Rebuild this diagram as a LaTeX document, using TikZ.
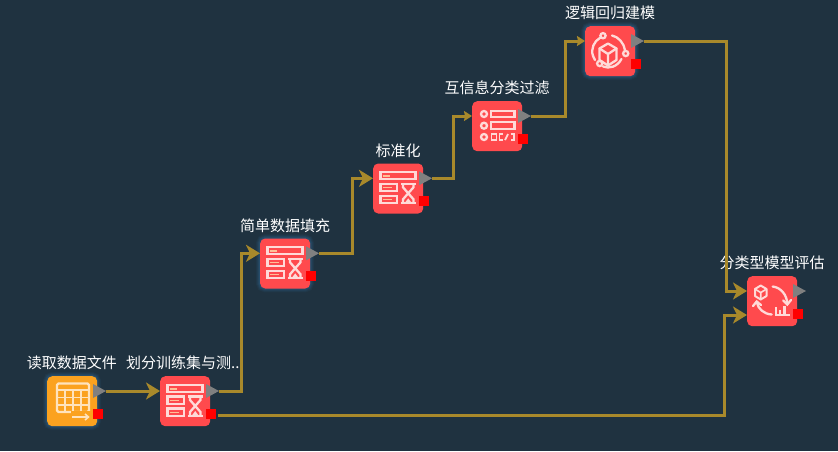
\documentclass[tikz,border=0pt]{standalone}
\usepackage{fontspec}
\setmainfont{Noto Sans CJK SC}
\usetikzlibrary{arrows.meta}
\definecolor{bgc}{HTML}{1F3240}
\definecolor{wire}{HTML}{A8892B}
\definecolor{redbox}{HTML}{FF4A4D}
\definecolor{orangebox}{HTML}{FBA21F}
\definecolor{iconred}{HTML}{FFDAD8}
\definecolor{iconorange}{HTML}{FFE3BC}
\definecolor{glowc}{HTML}{3D8FD0}
\definecolor{portc}{HTML}{808080}
\tikzset{
  nodebox/.style={draw=none,rectangle,rounded corners=5pt,minimum size=50pt,inner sep=0pt,anchor=north west},
  nodelabel/.style={text=white,font=\fontsize{15pt}{16pt}\selectfont,inner sep=0pt,anchor=center},
  wirebig/.style={draw=wire,line width=3pt,-{Stealth[length=14pt,width=17pt,inset=4pt]}},
  wiresmall/.style={draw=wire,line width=3pt,-{Stealth[length=8pt,width=10pt,inset=1pt]}},
  icon/.style={line width=2.3pt,line join=miter,fill=none},
}
\newcommand{\glowbox}{%
  \foreach \gw/\gop in {8/0.06,6/0.08,4/0.10,2/0.12}{%
    \draw[glowc,opacity=\gop,line width=\gw pt,rounded corners=5pt] (0,0) rectangle (50,50);}}
\newcommand{\flownode}[7]{%
  \begin{scope}[shift={(#2,#3)}]
    #7
    \node[nodebox,fill=#4] (#1) at (0,0) {};
    #6
    \fill[portc] (46,8) -- (59,15) -- (46,22) -- cycle;
    \fill[red] (46,33) rectangle (56,43);
    \node[nodelabel] (#1-label) at (25,-13) {#5};
    \coordinate (#1-in) at (0,15);
    \coordinate (#1-intwo) at (0,39);
    \coordinate (#1-out) at (59,15);
    \coordinate (#1-err) at (58,39);
  \end{scope}}
\newcommand{\icontable}{%
  \begin{scope}[icon,draw=iconorange]
    \draw[rounded corners=1.5pt] (10,7.5) rectangle (42,36);
    \draw (10,14) -- (42,14);
    \draw[line width=1.6pt] (18,14) -- (18,36) (26,14) -- (26,36) (34,14) -- (34,36)
      (10,21.5) -- (42,21.5) (10,29) -- (42,29);
    \fill[orangebox] (24,34.5) rectangle (45,45);
    \draw[line width=1.6pt] (25,41) -- (41,41) (38,38) -- (41.5,41) -- (38,44);
  \end{scope}}
\newcommand{\iconform}{%
  \begin{scope}[icon,draw=iconred]
    \draw (7.5,9) rectangle (42.5,16);
    \fill[iconred!70!orange] (10,11.5) rectangle (17,13.5);
    \draw (7.5,20.5) rectangle (24,28);
    \fill[iconred!70!orange] (10,23.5) rectangle (19,25);
    \draw (7.5,32.5) rectangle (24,40);
    \fill[iconred!70!orange] (10,35.5) rectangle (19,37);
    \draw (28,20.5) -- (42.5,20.5) (28,40) -- (42.5,40);
    \draw (30,20.5) -- (30,24) -- (35.2,30) -- (30,36) -- (30,40)
          (40.5,20.5) -- (40.5,24) -- (35.2,30) -- (40.5,36) -- (40.5,40);
    \fill[iconred] (31.5,40) -- (35.2,35) -- (39,40) -- cycle;
  \end{scope}}
\newcommand{\iconlist}{%
  \begin{scope}[icon,draw=iconred]
    \draw (12,13) circle (3pt) (12,24.7) circle (3pt) (12,36) circle (3pt);
    \draw (19,9.7) rectangle (42.5,15.7);
    \draw (19,21.3) rectangle (42.5,27.7);
    \begin{scope}[line width=1.8pt]
    \draw (19.5,33) rectangle (24.5,39);
    \draw (31,33) -- (27.5,33) -- (27.5,39) -- (31,39);
    \draw (36,33) -- (33,39);
    \draw (38.5,33) -- (42,33) -- (42,39) -- (38.5,39);
    \end{scope}
  \end{scope}}
\newcommand{\iconcube}{%
  \begin{scope}[icon,draw=iconred,line cap=round]
    \draw[line join=round] (23,17.5) -- (31.5,22.5) -- (31.5,34) -- (23,39.5) -- (14.5,34) -- (14.5,22.5) -- cycle;
    \draw[line join=round] (14.5,22.5) -- (23,28) -- (31.5,22.5) (23,28) -- (23,39.5);
    \draw (15.5,11.5) .. controls (9,15) and (5.5,23) .. (8,30);
    \draw (8,30) .. controls (8.5,31.5) and (9,32.5) .. (10,34);
    \draw (27,9.5) .. controls (33,10.5) and (39,17) .. (40,24);
    \draw (18,40.5) .. controls (24,43) and (32,41) .. (36.5,33);
    \draw (18,9.7) circle (2.6pt) (40.7,27.5) circle (2.6pt) (14.7,37.5) circle (2.6pt);
  \end{scope}}
\newcommand{\iconeval}{%
  \begin{scope}[icon,draw=iconred,line cap=round]
    \draw[line join=round,line width=2pt] (13.7,9.5) -- (19.5,13) -- (19.5,20) -- (13.7,23.5) -- (8,20) -- (8,13) -- cycle;
    \draw[line join=round,line width=1.6pt] (8,13) -- (13.7,16.6) -- (19.5,13) (13.7,16.6) -- (13.7,23.5);
    \draw (25.7,10.5) .. controls (34,11.5) and (40,19) .. (40.3,28);
    \draw (36.3,24.5) -- (40.3,28.5) -- (44,24);
    \draw (24.7,38.5) .. controls (17,38) and (11,33) .. (9.7,26);
    \draw (6,30) -- (9.7,25.5) -- (14,29);
    \draw[line cap=butt] (28.7,31) -- (28.7,38.7) -- (43,38.7);
    \draw[line cap=butt] (33,34) -- (33,38.7) (37.5,30) -- (37.5,38.7);
  \end{scope}}
\begin{document}
\begin{tikzpicture}[x=1pt,y=-1pt]
\useasboundingbox (0,0) rectangle (838,451);
\fill[bgc] (0,0) rectangle (838,451);
\flownode{n1}{47}{376}{orangebox}{读取数据文件}{\icontable}{\glowbox}
\flownode{n2}{160}{376}{redbox}{划分训练集与测...}{\iconform}{}
\flownode{n3}{260}{238.3}{redbox}{简单数据填充}{\iconform}{\glowbox}
\flownode{n4}{373}{163.3}{redbox}{标准化}{\iconform}{}
\flownode{n5}{472}{101}{redbox}{互信息分类过滤}{\iconlist}{}
\flownode{n6}{585}{26}{redbox}{逻辑回归建模}{\iconcube}{\glowbox}
\flownode{n7}{747}{276}{redbox}{分类型模型评估}{\iconeval}{}
\draw[wirebig] (n1-out) -- (n2-in);
\draw[wirebig] (n2-out) -- ++(22,0) |- (n3-in);
\draw[wirebig] (n3-out) -- ++(33,0) |- (n4-in);
\draw[wiresmall] (n4-out) -- ++(21,0) |- (n5-in);
\draw[wiresmall] (n5-out) -- ++(34,0) |- (n6-in);
\draw[wirebig] (n6-out) -- ++(82,0) |- (n7-in);
\draw[wirebig] (n2-err) -- ++(506,0) |- (n7-intwo);
\end{tikzpicture}
\end{document}
